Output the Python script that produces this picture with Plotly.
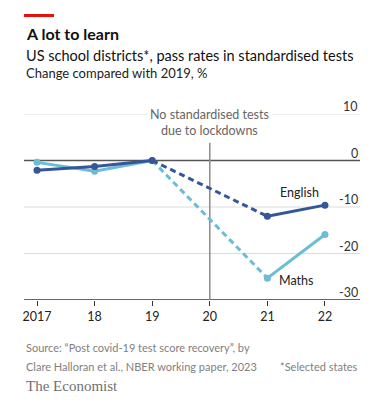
import plotly.graph_objects as go

years = [2017, 2018, 2019, 2021, 2022]
english = [-2.1, -1.3, 0.0, -12.0, -9.6]
maths = [-0.4, -2.3, 0.0, -25.3, -15.9]
x_ticks = [2017, 2018, 2019, 2020, 2021, 2022]
x_labels = ["2017", "18", "19", "20", "21", "22"]
y_ticks = [10, 0, -10, -20, -30]

ENG = "#36569a"
MAT = "#6abdd4"
FONT = "Lato"

fig = go.Figure()

def add_series(vals, color, name):
    pre_x = [y for y in years if y <= 2019]
    pre_y = [v for y, v in zip(years, vals) if y <= 2019]
    post_x = [y for y in years if y >= 2021]
    post_y = [v for y, v in zip(years, vals) if y >= 2021]
    gap_x = [2019, 2021]
    gap_y = [vals[years.index(2019)], vals[years.index(2021)]]
    fig.add_trace(go.Scatter(x=gap_x, y=gap_y, mode="lines",
                             line=dict(color=color, width=3, dash="6px,4px"),
                             showlegend=False, hoverinfo="skip"))
    for xs, ys in [(pre_x, pre_y), (post_x, post_y)]:
        fig.add_trace(go.Scatter(x=xs, y=ys, mode="lines+markers",
                                 line=dict(color=color, width=3),
                                 marker=dict(color=color, size=7),
                                 name=name, showlegend=False))

add_series(maths, MAT, "Maths")
add_series(english, ENG, "English")

shapes = []
for t in y_ticks:
    if t == 0:
        col, w = "#555555", 1.5
    elif t == -30:
        col, w = "#333333", 1.5
    else:
        col, w = "#dcdcdc", 1
    shapes.append(dict(type="line", xref="paper", x0=0, x1=1, yref="y", y0=t, y1=t,
                       line=dict(color=col, width=w), layer="below"))
shapes.append(dict(type="line", xref="x", x0=2020, x1=2020, yref="y", y0=-30, y1=3.8,
                   line=dict(color="#8a8a8a", width=1.5), layer="below"))
shapes.append(dict(type="rect", xref="paper", yref="paper", x0=0, x1=30/336,
                   y0=1 + (114 - 17) / 186, y1=1 + (114 - 14) / 186,
                   fillcolor="#e3120b", line=dict(width=0)))

annotations = []
for t in y_ticks:
    annotations.append(dict(xref="paper", x=1, yref="y", y=t, text=str(t),
                            xanchor="right", yanchor="bottom", showarrow=False,
                            font=dict(family=FONT, size=12.5, color="#333333"),
                            yshift=-2))
annotations.append(dict(xref="x", x=2020, yref="y", y=10,
                        text="No standardised tests<br>due to lockdowns",
                        showarrow=False, xanchor="center", yanchor="middle", yshift=-8,
                        bgcolor="white", borderpad=2,
                        font=dict(family=FONT, size=12.5, color="#666666")))
annotations.append(dict(xref="x", x=2021.55, yref="y", y=english[3], text="English",
                        showarrow=False, xanchor="center", yanchor="middle", yshift=24,
                        font=dict(family=FONT, size=12.5, color="#222222")))
annotations.append(dict(xref="x", x=2021.5, yref="y", y=maths[3], text="Maths",
                        showarrow=False, xanchor="center", yanchor="middle", yshift=-2,
                        font=dict(family=FONT, size=12.5, color="#222222")))

def ptxt(text, ypx, size, color, bold=False, family=FONT, x=0, xanchor="left"):
    annotations.append(dict(xref="paper", x=x, yref="paper", y=1 + (114 - ypx) / 186,
                            text=f"<b>{text}</b>" if bold else text, showarrow=False,
                            xanchor=xanchor, yanchor="middle",
                            font=dict(family=family, size=size, color=color)))

ptxt("A lot to learn", 34, 16, "#111111", bold=True)
ptxt("US school districts*, pass rates in standardised tests", 55, 14.5, "#111111")
ptxt("Change compared with 2019, %", 73, 13, "#222222")
ptxt("Source: \u201cPost covid-19 test score recovery\u201d, by", 347, 11, "#808080")
ptxt("Clare Halloran et al., NBER working paper, 2023", 366, 11, "#808080")
ptxt("*Selected states", 366, 11, "#808080", x=1, xanchor="right")
ptxt("The Economist", 386, 15, "#707070", family="Liberation Serif")

fig.update_layout(
    width=372, height=415,
    margin=dict(l=24, r=12, t=114, b=115),
    paper_bgcolor="white", plot_bgcolor="white",
    shapes=shapes, annotations=annotations,
    xaxis=dict(range=[2016.774, 2022.608], tickvals=x_ticks, ticktext=x_labels,
               showgrid=False, zeroline=False, showline=False,
               ticks="outside", ticklen=5, tickcolor="#333333", tickwidth=1,
               tickfont=dict(family=FONT, size=12.5, color="#222222"), fixedrange=True),
    yaxis=dict(range=[-30, 10], showgrid=False, zeroline=False, showticklabels=False,
               showline=False, fixedrange=True),
)

fig.write_html("out.html", config={"displayModeBar": False},
               post_script="document.body.style.margin='0';document.body.style.overflow='hidden';")
